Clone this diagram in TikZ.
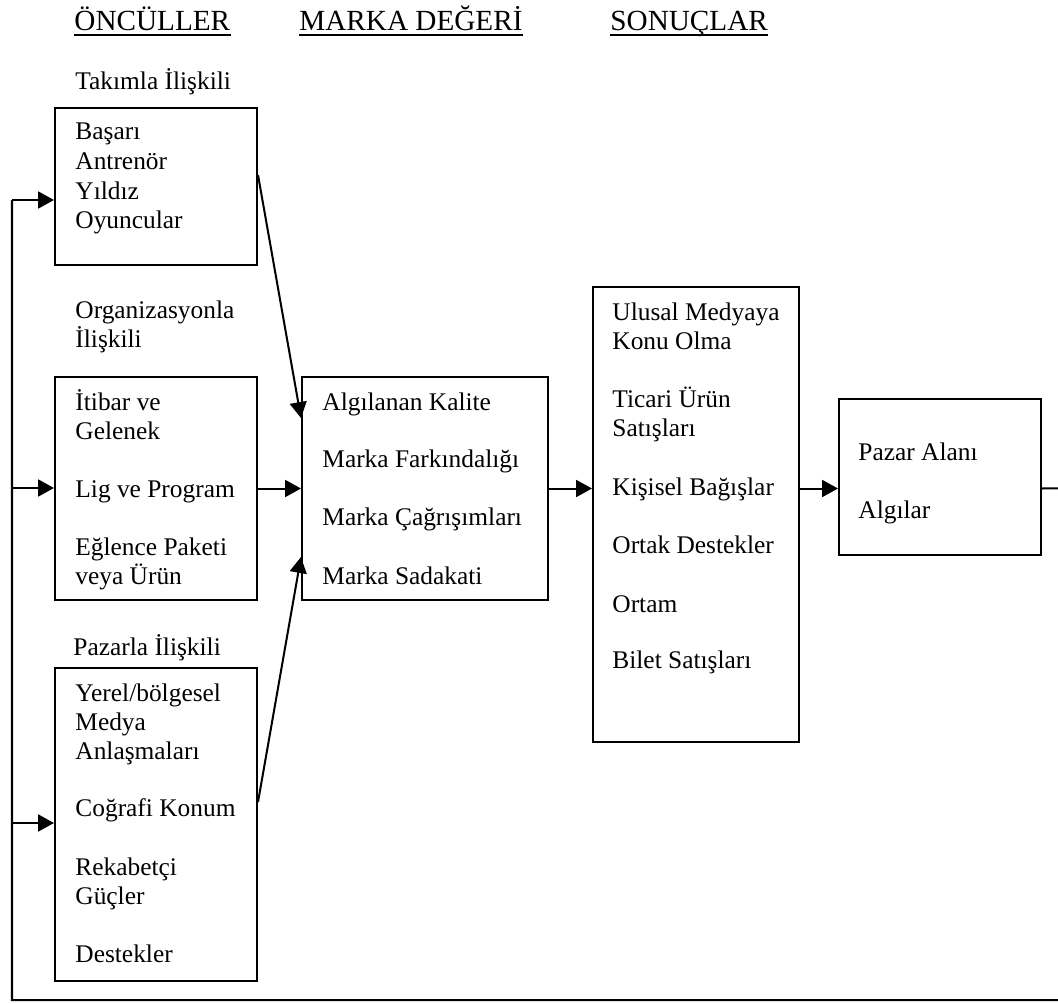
\documentclass[tikz,border=0pt]{standalone}
\usepackage{fontspec}
\setmainfont{Liberation Serif}
\usetikzlibrary{arrows.meta,fit,calc}
\begin{document}
\begin{tikzpicture}[x=0.4725pt,y=-0.4725pt,
  box/.style={draw,line width=0.95pt,inner sep=0pt},
  txt/.style={anchor=base west,inner sep=0pt,font=\fontsize{12pt}{13.8pt}\selectfont},
  head/.style={anchor=base west,inner sep=0pt,font=\fontsize{13.8pt}{16pt}\selectfont},
  uline/.style={line width=1pt},
  arr/.style={line width=0.95pt,-{Triangle[length=7.5pt,width=8pt]}},
  ln/.style={line width=0.95pt}]
\useasboundingbox (0,0) rectangle (1058,1003);

% column headings
\node[head] (h1) at (74,31) {ÖNCÜLLER};
\node[head] (h2) at (299,31) {MARKA DEĞERİ};
\node[head] (h3) at (610,31) {SONUÇLAR};
\foreach \h in {h1,h2,h3}
  \draw[uline] ([yshift=-2pt]\h.base west) -- ([yshift=-2pt]\h.base east);

% antecedents
\node[txt] (tA) at (75,90) {Takımla İlişkili};
\node[box,fit={(55,108) (257,265)}] (A) {};
\node[txt] (a1) at (75,140) {Başarı};
\node[txt] (a2) at (75,169) {Antrenör};
\node[txt] (a3) at (75,199) {Yıldız};
\node[txt] (a4) at (75,228) {Oyuncular};

\node[txt] (tB1) at (75,318) {Organizasyonla};
\node[txt] (tB2) at (75,347) {İlişkili};
\node[box,fit={(55,377) (257,600)}] (B) {};
\node[txt] (b1) at (75,410) {İtibar ve};
\node[txt] (b2) at (75,439) {Gelenek};
\node[txt] (b3) at (75,497) {Lig ve Program};
\node[txt] (b4) at (75,555) {Eğlence Paketi};
\node[txt] (b5) at (75,584) {veya Ürün};

\node[txt] (tC) at (73,655) {Pazarla İlişkili};
\node[box,fit={(55,668) (257,981)}] (C) {};
\node[txt] (c1) at (75,701) {Yerel/bölgesel};
\node[txt] (c2) at (75,730) {Medya};
\node[txt] (c3) at (75,759) {Anlaşmaları};
\node[txt] (c4) at (75,816) {Coğrafi Konum};
\node[txt] (c5) at (75,875) {Rekabetçi};
\node[txt] (c6) at (75,904) {Güçler};
\node[txt] (c7) at (75,962) {Destekler};

% brand equity
\node[box,fit={(302,377) (548,600)}] (M) {};
\node[txt] (m1) at (322,410) {Algılanan Kalite};
\node[txt] (m2) at (322,467) {Marka Farkındalığı};
\node[txt] (m3) at (322,525) {Marka Çağrışımları};
\node[txt] (m4) at (322,584) {Marka Sadakati};

% consequences
\node[box,fit={(593,287) (799,742)}] (S) {};
\node[txt] (s1) at (612,320) {Ulusal Medyaya};
\node[txt] (s2) at (612,349) {Konu Olma};
\node[txt] (s3) at (612,407) {Ticari Ürün};
\node[txt] (s4) at (612,436) {Satışları};
\node[txt] (s5) at (612,495) {Kişisel Bağışlar};
\node[txt] (s6) at (612,553) {Ortak Destekler};
\node[txt] (s7) at (612,612) {Ortam};
\node[txt] (s8) at (612,668) {Bilet Satışları};

\node[box,fit={(839,399) (1041,555)}] (P) {};
\node[txt] (p1) at (858,460) {Pazar Alanı};
\node[txt] (p2) at (858,518) {Algılar};

% connectors between columns
\draw[arr] (A.east |- 0,175) -- (M.west |- 0,418);
\draw[arr] (B.east) -- (M.west);
\draw[arr] (C.east |- 0,802) -- (M.west |- 0,557);
\draw[arr] (M.east) -- (S.west |- M.east);
\draw[arr] (S.east |- M.east) -- (P.west |- M.east);

% feedback loop
\coordinate (r1) at (1075,488);
\coordinate (r2) at (1075,1000);
\coordinate (l1) at (12,1000);
\coordinate (l0) at (12,200);
\coordinate (lB) at (12,488);
\coordinate (lC) at (12,823);
\draw[ln] (P.east |- M.east) -- (r1) -- (r2) -- (l1) -- (l0);
\draw[arr] (l0) -- (l0 -| A.west);
\draw[arr] (lB) -- (lB -| B.west);
\draw[arr] (lC) -- (lC -| C.west);
\end{tikzpicture}
\end{document}
